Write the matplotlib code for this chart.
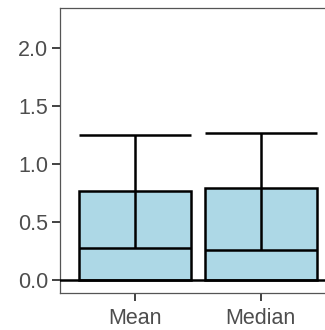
import matplotlib
matplotlib.use("Agg")
import matplotlib.pyplot as plt
import numpy as np

# data
categories = ["Mean", "Median"]
bar_heights = [0.77, 0.79]
err_low = [0.28, 0.26]
err_high = [1.25, 1.27]

plt.rcParams["font.family"] = ["Liberation Sans", "DejaVu Sans"]

fig = plt.figure(figsize=(3.25, 3.3), dpi=100)
# panel runs past the right edge of the picture, as in the reference
ax = fig.add_axes([60 / 325, 37 / 330, 276 / 325, 285 / 330])

x = np.arange(1, len(categories) + 1)
width = 0.89
ax.bar(x, bar_heights, width=width, color="#ADD8E6", edgecolor="black",
       linewidth=1.8, zorder=2)
ax.vlines(x, err_low, err_high, color="black", linewidth=1.8, zorder=3)
ax.hlines(err_low, x - width / 2, x + width / 2, color="black", linewidth=1.8, zorder=3)
ax.hlines(err_high, x - width / 2, x + width / 2, color="black", linewidth=1.8, zorder=3)
ax.axhline(0, color="black", linewidth=1.8, zorder=4)

ax.set_xlim(0.4, 2.6)
ax.set_ylim(-0.112, 2.345)
ax.set_xticks(x)
ax.set_xticklabels(categories)
ax.set_yticks([0.0, 0.5, 1.0, 1.5, 2.0])
ax.set_yticklabels(["0.0", "0.5", "1.0", "1.5", "2.0"])
ax.tick_params(axis="both", colors="#333333", labelcolor="#4d4d4d",
               labelsize=15.5, length=5.5, width=1.3)
ax.tick_params(axis="y", pad=3)
ax.tick_params(axis="x", pad=5)

for s in ax.spines.values():
    s.set_color("#555555")
    s.set_linewidth(0.9)

fig.savefig("out.png", dpi=100)
